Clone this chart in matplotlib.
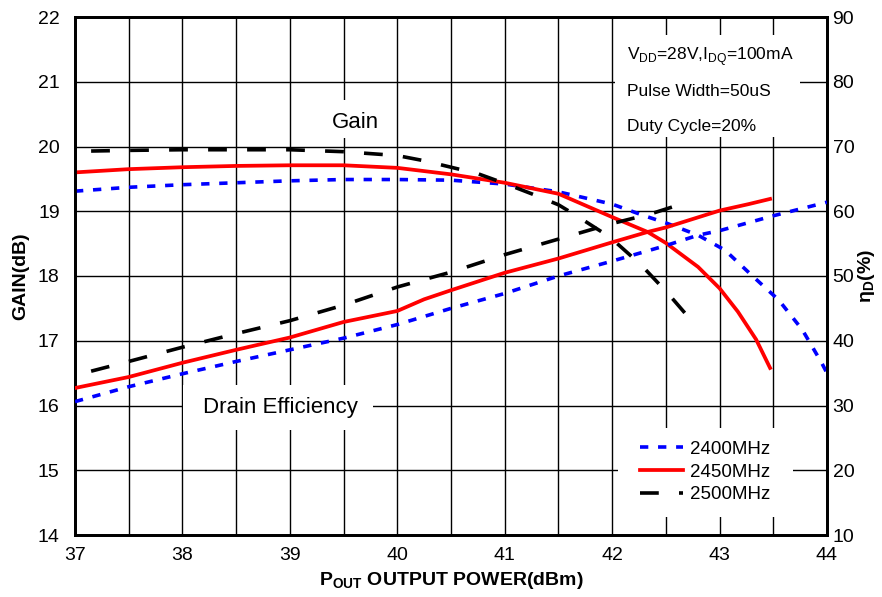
import matplotlib
matplotlib.use("Agg")
import matplotlib.pyplot as plt
from matplotlib.patches import Rectangle

plt.rcParams['font.family'] = ['Liberation Sans', 'DejaVu Sans']
plt.rcParams['mathtext.fontset'] = 'custom'
plt.rcParams['mathtext.rm'] = 'Liberation Sans'

# ---- data ----
x_gain_2400 = [37.0, 37.5, 38.0, 38.5, 39.0, 39.5, 40.0, 40.5, 41.0, 41.5, 42.0, 42.3, 42.5, 42.8, 43.05, 43.3, 43.55, 43.77, 43.95, 44.0]
gain_2400 = [19.31, 19.37, 19.41, 19.44, 19.47, 19.49, 19.49, 19.48, 19.42, 19.3, 19.11, 18.93, 18.82, 18.63, 18.4, 18.01, 17.63, 17.17, 16.66, 16.5]

x_gain_2450 = [37.0, 37.5, 38.0, 38.5, 39.0, 39.5, 40.0, 40.5, 41.0, 41.5, 42.0, 42.33, 42.5, 42.8, 43.0, 43.17, 43.34, 43.47]
gain_2450 = [19.6, 19.65, 19.68, 19.7, 19.71, 19.71, 19.67, 19.57, 19.44, 19.27, 18.91, 18.68, 18.51, 18.14, 17.81, 17.45, 17.02, 16.58]

x_gain_2500 = [37.15, 37.5, 38.0, 38.5, 39.0, 39.5, 40.0, 40.25, 40.5, 40.75, 41.0, 41.25, 41.5, 41.64, 41.98, 42.27, 42.52, 42.77]
gain_2500 = [19.93, 19.94, 19.95, 19.95, 19.95, 19.92, 19.86, 19.78, 19.68, 19.58, 19.43, 19.27, 19.1, 18.96, 18.6, 18.17, 17.73, 17.25]

x_eff_2400 = [37.0, 37.5, 38.0, 38.5, 39.0, 39.5, 40.0, 40.5, 41.0, 41.5, 42.0, 42.5, 42.8, 43.0, 43.5, 44.0]
eff_2400 = [30.6, 32.9, 34.9, 36.8, 38.6, 40.4, 42.5, 45.0, 47.3, 50.0, 52.3, 54.7, 56.3, 57.0, 59.3, 61.4]

x_eff_2450 = [37.0, 37.5, 38.0, 38.5, 39.0, 39.5, 40.0, 40.25, 40.5, 41.0, 41.5, 42.0, 42.33, 42.5, 43.0, 43.27, 43.47]
eff_2450 = [32.7, 34.4, 36.6, 38.6, 40.5, 42.9, 44.6, 46.4, 47.8, 50.5, 52.7, 55.2, 56.8, 57.5, 60.1, 61.1, 61.9]

x_eff_2500 = [37.15, 37.5, 38.0, 38.5, 39.0, 39.5, 40.0, 40.5, 41.0, 41.5, 42.0, 42.36, 42.7]
eff_2500 = [35.3, 36.8, 39.0, 41.1, 43.1, 45.5, 48.3, 50.6, 53.3, 55.7, 58.1, 59.6, 61.4]

labels = ['2400MHz', '2450MHz', '2500MHz']
x_ticks = [37, 38, 39, 40, 41, 42, 43, 44]
gain_ticks = [14, 15, 16, 17, 18, 19, 20, 21, 22]
eff_ticks = [10, 20, 30, 40, 50, 60, 70, 80, 90]

# ---- styles ----
blue_style = dict(color='#0000ff', lw=2.6, linestyle=(0, (2.3, 2.7)))
red_style = dict(color='#ff0000', lw=2.7, linestyle='-')
black_style = dict(color='black', lw=2.6, linestyle=(0, (5.2, 5.6)))

fig = plt.figure(figsize=(8.82, 5.97), dpi=100)
ax = fig.add_axes([75/882, 1-535/597, 752/882, 518/597])
ax2 = ax.twinx()

ax.set_xlim(37, 44)
ax.set_ylim(14, 22)
ax2.set_ylim(10, 90)

# grid
ax.set_xticks([37 + 0.5*i for i in range(15)], minor=True)
ax.set_xticks(x_ticks)
ax.set_yticks(gain_ticks)
ax2.set_yticks(eff_ticks)
ax.grid(True, which='both', axis='x', color='black', lw=1.0)
ax.grid(True, which='major', axis='y', color='black', lw=1.0)

ax.tick_params(axis='both', which='both', length=0, labelsize=14)
ax.tick_params(axis='x', pad=9)
ax.tick_params(axis='y', pad=11)
ax2.tick_params(axis='y', length=0, labelsize=14, pad=4)

for a in (ax, ax2):
    for s in a.spines.values():
        s.set_linewidth(2.0)

# white boxes behind texts (cover grid)
for (x0, y0, x1, y1) in [(183, 385, 373, 430), (330, 100, 382, 138), (615, 35, 800, 137), (618, 428, 793, 517)]:
    ax.add_patch(Rectangle(((x0-75)/752, (535-y1)/518), (x1-x0)/752, (y1-y0)/518,
                           transform=ax.transAxes, facecolor='white', edgecolor='none', zorder=1.8))

# gain curves
l1, = ax.plot(x_gain_2400, gain_2400, zorder=3, **blue_style)
l2, = ax.plot(x_gain_2450, gain_2450, zorder=3, **red_style)
l3, = ax.plot(x_gain_2500, gain_2500, zorder=3, **black_style)
# efficiency curves
ax2.plot(x_eff_2400, eff_2400, zorder=3, **blue_style)
ax2.plot(x_eff_2450, eff_2450, zorder=3, **red_style)
ax2.plot(x_eff_2500, eff_2500, zorder=3, **black_style)

ax.text((355-75)/752, (535-122)/518, 'Gain', transform=ax.transAxes, fontsize=16,
        ha='center', va='center', zorder=4)
ax.text((280-75)/752, (535-408)/518, 'Drain Efficiency', transform=ax.transAxes, fontsize=16,
        ha='center', va='center', zorder=4)

tx = (627-75)/752
ax.text(tx, (535-57)/518, r'V$_{\mathregular{DD}}$=28V,I$_{\mathregular{DQ}}$=100mA',
        transform=ax.transAxes, fontsize=12.5, ha='left', va='center', zorder=4)
ax.text(tx, (535-92)/518, 'Pulse Width=50uS', transform=ax.transAxes, fontsize=12.5,
        ha='left', va='center', zorder=4)
ax.text(tx, (535-126)/518, 'Duty Cycle=20%', transform=ax.transAxes, fontsize=12.5,
        ha='left', va='center', zorder=4)

leg = ax.legend([l1, l2, l3], labels, loc='center left',
                bbox_to_anchor=((640-75)/752, (535-472)/518), frameon=False,
                fontsize=13.5, handlelength=2.3, handletextpad=0.35,
                labelspacing=0.3, borderpad=0, borderaxespad=0)
leg.set_zorder(5)

ax.set_xlabel(r'P$_{\mathregular{OUT}}$ OUTPUT POWER(dBm)', fontsize=14, fontweight='bold', labelpad=4)
ax.set_ylabel('GAIN(dB)', fontsize=14, fontweight='bold', labelpad=6)
ax2.set_ylabel(r'η$_{\mathregular{D}}$(%)', fontsize=14, fontweight='bold', labelpad=1)

fig.savefig('out.png', dpi=100)
